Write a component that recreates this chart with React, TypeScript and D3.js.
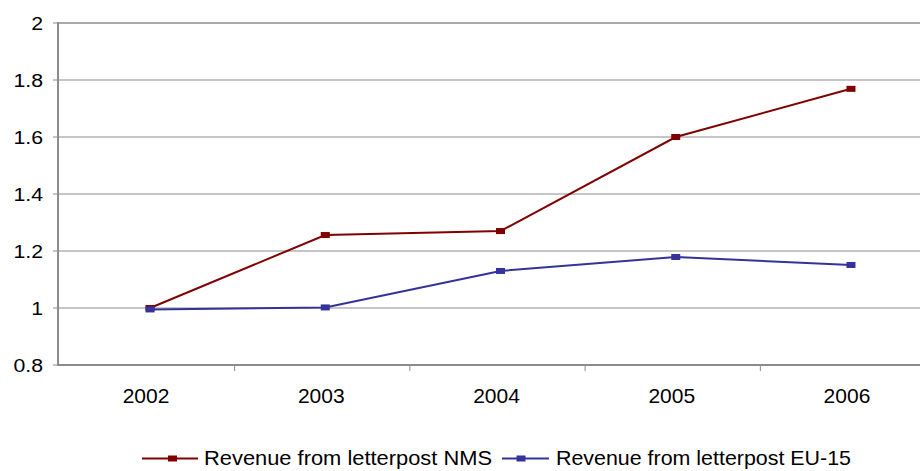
import React from "react";
import * as d3 from "d3";

const years = ["2002", "2003", "2004", "2005", "2006"];
const nms = [1.0, 1.256, 1.27, 1.6, 1.769];
const eu15 = [0.995, 1.002, 1.13, 1.179, 1.151];
const yTicks = [0.8, 1, 1.2, 1.4, 1.6, 1.8, 2];
const seriesNames = ["Revenue from letterpost NMS", "Revenue from letterpost EU-15"];
const seriesColors = ["#800000", "#333399"];

export default function App() {
  const W = 920, H = 471;
  const left = 58, top = 23, bottom = 365;
  const x = d3.scaleBand<string>().domain(years).range([62.4, 938.6]);
  const y = d3.scaleLinear().domain([0.8, 2]).range([bottom, top]);
  const line = d3.line<number>().x((_, i) => (x(years[i]) as number) + x.bandwidth() / 2).y((d) => y(d));
  const font = "'Liberation Sans', Arial, sans-serif";
  const series = [nms, eu15];
  const legend = [
    { lx: 142, lw: 56, mx: 172.5, tx: 204, tl: 288 },
    { lx: 502, lw: 47, mx: 521, tx: 556, tl: 295 },
  ];
  return (
    <svg width={W} height={H} style={{ position: "absolute", left: 0, top: 0, background: "#fff" }}>
      {yTicks.map((t) => (
        <g key={t}>
          {t !== 0.8 && (
            <line x1={left} x2={W} y1={y(t)} y2={y(t)} stroke="#8c8c8c" strokeWidth={t === 2 ? 1.6 : 1} />
          )}
          <line x1={left - 5} x2={left} y1={y(t)} y2={y(t)} stroke="#8c8c8c" strokeWidth={1} />
          <g transform={`translate(43,${y(t) + 6.5}) scale(1.12,1)`}>
            <text x={0} y={0} textAnchor="end" fontSize={19} fontFamily={font} fill="#000">
              {String(t)}
            </text>
          </g>
        </g>
      ))}
      <line x1={left} x2={left} y1={top - 1} y2={bottom + 1} stroke="#8c8c8c" strokeWidth={2} />
      <line x1={left} x2={W} y1={bottom} y2={bottom} stroke="#8c8c8c" strokeWidth={2} />
      {years.map((yr, i) => (
        <g key={yr}>
          {i > 0 && (
            <line x1={(x(yr) as number) - 3} x2={(x(yr) as number) - 3} y1={bottom} y2={bottom + 6} stroke="#8c8c8c" strokeWidth={1} />
          )}
          <text x={(x(yr) as number) + x.bandwidth() / 2 - 4} y={403.3} textAnchor="middle" fontSize={21} fontFamily={font} fill="#000">
            {yr}
          </text>
        </g>
      ))}
      {series.map((s, si) => (
        <g key={si}>
          <path d={line(s) || ""} fill="none" stroke={seriesColors[si]} strokeWidth={2} />
          {s.map((v, i) => (
            <rect
              key={i}
              x={(x(years[i]) as number) + x.bandwidth() / 2 - 4.5}
              y={y(v) - 3}
              width={9}
              height={6}
              fill={seriesColors[si]}
            />
          ))}
        </g>
      ))}
      {legend.map((l, si) => (
        <g key={si}>
          <line x1={l.lx} x2={l.lx + l.lw} y1={458.5} y2={458.5} stroke={seriesColors[si]} strokeWidth={2} />
          <rect x={l.mx - 4.5} y={455.5} width={9} height={6} fill={seriesColors[si]} />
          <text x={l.tx} y={465} fontSize={21} fontFamily={font} fill="#000" textLength={l.tl} lengthAdjust="spacingAndGlyphs">
            {seriesNames[si]}
          </text>
        </g>
      ))}
    </svg>
  );
}
